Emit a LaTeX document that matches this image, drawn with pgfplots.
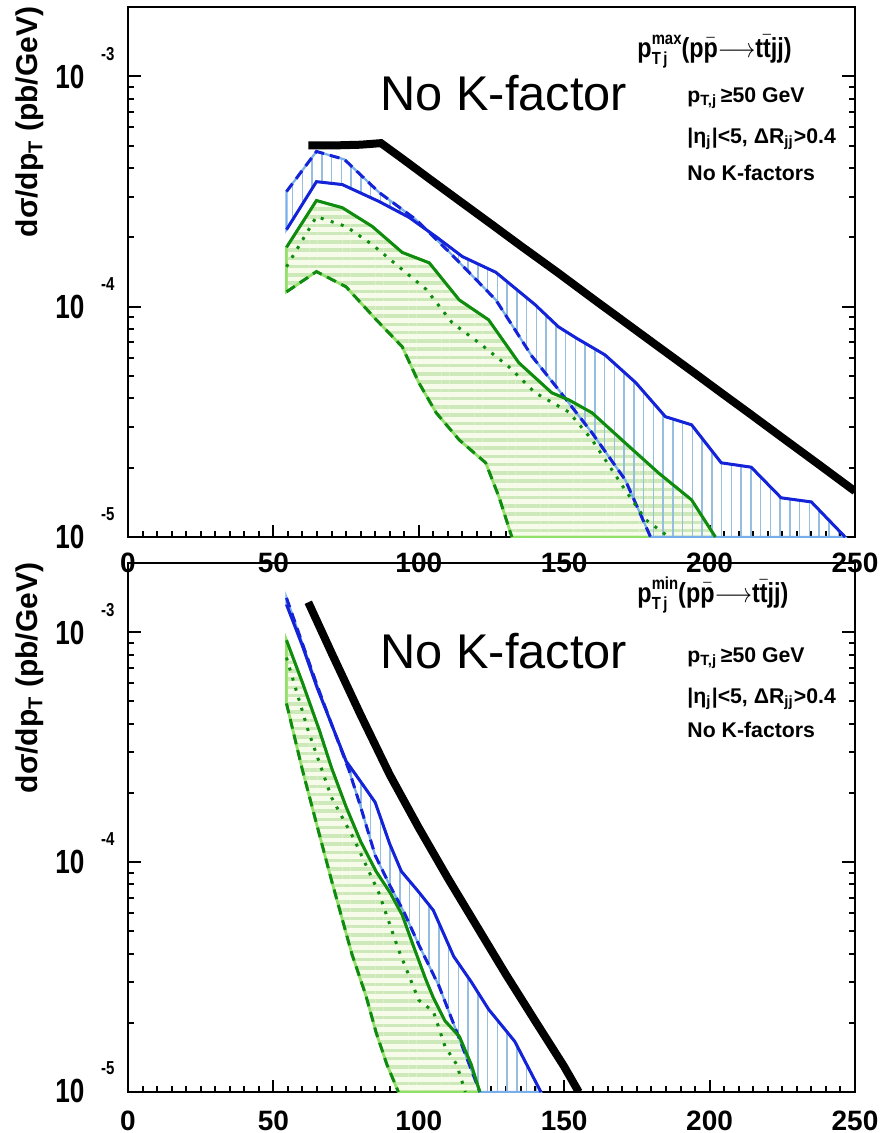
\documentclass[border=0pt]{standalone}
\usepackage{fontspec}
\setmainfont{Liberation Sans}
\usepackage{graphicx}
\usepackage{pgfplots}
\pgfplotsset{compat=1.18}
\usetikzlibrary{patterns.meta}

\definecolor{curveblue}{RGB}{20,35,215}
\definecolor{curvegreen}{RGB}{15,140,15}
\definecolor{edgeblue}{RGB}{120,175,235}
\definecolor{bluehatch}{RGB}{150,190,225}
\definecolor{edgegreen}{RGB}{145,225,105}
\definecolor{greenpale}{RGB}{246,251,234}
\definecolor{greenhatch}{RGB}{205,232,185}

\newcommand\ten{\scalebox{0.78}[1]{\fontsize{13.4}{14}\selectfont\bfseries 10}}
\newcommand\ex[1]{\scalebox{0.8}[1]{\fontsize{7.5}{8}\selectfont\bfseries #1}}
\newcommand\ttl[1]{\scalebox{0.85}[1]{\fontsize{11}{12}\selectfont\bfseries p\rlap{\raisebox{-0.5ex}{\fontsize{7}{7}\selectfont T\,j}}\raisebox{0.85ex}{\fontsize{7}{7}\selectfont #1}(p\ensuremath{\bar{\mbox{p}}}\ensuremath{\longrightarrow}t\ensuremath{\bar{\mbox{t}}}jj)}}
\newcommand\cuts{\fontsize{8.5}{9}\selectfont\bfseries}

\tikzset{
  bandgreen/.style={draw=edgegreen, line width=1pt, fill=greenpale,
    postaction={pattern={Lines[angle=0,distance=3.3pt,line width=1.4pt]}, pattern color=greenhatch}},
  bandblue/.style={draw=edgeblue, line width=0.9pt, pattern={Lines[angle=90,distance=3.9pt,line width=0.6pt]}, pattern color=bluehatch},
  solidline/.style={line width=1.2pt},
  dashline/.style={line width=1.2pt, dash pattern=on 4pt off 2.4pt},
  dotline/.style={line width=1.2pt, dash pattern=on 1.2pt off 3pt},
}

\begin{document}
\begin{tikzpicture}

% upper panel: leading jet
\begin{axis}[at={(51.2pt,-214.8pt)}, anchor=south west,
    scale only axis, width=290.8pt, height=212pt,
    xmin=0, xmax=250, ymode=log, ymin=1e-5, ymax=2e-3,
    xtick={0,50,100,150,200,250},
    xticklabels={0,50,100,150,200,250},
    minor x tick num=9,
    ytick={1e-5,1e-4,1e-3},
    yticklabels={,,},
    xtick pos=left, ytick pos=both,
    tick align=inside,
    major tick length=5pt, minor tick length=2.4pt,
    every tick/.style={black, line width=0.8pt},
    axis line style={line width=1pt},
    xticklabel style={anchor=center, inner sep=0pt, yshift=-10.4pt, font=\fontsize{11.2}{12}\selectfont\bfseries}]
% bands: solid curve forward, dashed curve back
\addplot[bandgreen] coordinates {
 (54.5,1.81e-4) (64.8,2.89e-4) (73.7,2.69e-4) (84,2.23e-4) (94.3,1.72e-4)
 (103.6,1.55e-4) (113.9,1.07e-4) (124,8.77e-5) (134.4,5.71e-5) (145.7,4.23e-5)
 (151.6,3.94e-5) (159.6,3.46e-5) (171,2.56e-5) (182.4,1.90e-5) (193.8,1.45e-5)
 (202,1.0e-5)
 (132,1.0e-5) (127.6,1.49e-5) (123,2.10e-5) (113.9,2.64e-5) (106,3.46e-5)
 (100,4.68e-5) (94.3,6.70e-5) (85.4,8.77e-5) (75,1.22e-4) (64.8,1.42e-4)
 (54.5,1.16e-4)} -- cycle;
\addplot[bandblue] coordinates {
 (54.5,2.16e-4) (64.8,3.49e-4) (73.7,3.39e-4) (86.4,2.86e-4) (96.7,2.44e-4)
 (106,2.01e-4) (115,1.65e-4) (126.5,1.41e-4) (140,1.02e-4) (148,8.18e-5)
 (154,7.33e-5) (164,6.18e-5) (174.6,4.68e-5) (184.8,3.33e-5) (193.8,3.07e-5)
 (204,2.10e-5) (214.3,2.01e-5) (224.6,1.48e-5) (235,1.42e-5) (246.6,1.0e-5)
 (179.7,1.0e-5) (171,1.77e-5) (159.6,2.83e-5) (148,4.37e-5) (139,6.07e-5)
 (126.5,1.07e-4) (110.4,1.73e-4) (99,2.39e-4) (86.4,3.13e-4) (74.4,4.36e-4)
 (64.8,4.72e-4) (54.5,3.16e-4)} -- cycle;
% curves
\addplot[curveblue, solidline] coordinates {
 (54.5,2.16e-4) (64.8,3.49e-4) (73.7,3.39e-4) (86.4,2.86e-4) (96.7,2.44e-4)
 (106,2.01e-4) (115,1.65e-4) (126.5,1.41e-4) (140,1.02e-4) (148,8.18e-5)
 (154,7.33e-5) (164,6.18e-5) (174.6,4.68e-5) (184.8,3.33e-5) (193.8,3.07e-5)
 (204,2.10e-5) (214.3,2.01e-5) (224.6,1.48e-5) (235,1.42e-5) (246.6,1.0e-5)};
\addplot[curveblue, dashline] coordinates {
 (54.5,3.16e-4) (64.8,4.72e-4) (74.4,4.36e-4) (86.4,3.13e-4) (99,2.39e-4)
 (110.4,1.73e-4) (126.5,1.07e-4) (139,6.07e-5) (148,4.37e-5) (159.6,2.83e-5)
 (171,1.77e-5) (179.7,1.0e-5)};
\addplot[curvegreen, solidline] coordinates {
 (54.5,1.81e-4) (64.8,2.89e-4) (73.7,2.69e-4) (84,2.23e-4) (94.3,1.72e-4)
 (103.6,1.55e-4) (113.9,1.07e-4) (124,8.77e-5) (134.4,5.71e-5) (145.7,4.23e-5)
 (151.6,3.94e-5) (159.6,3.46e-5) (171,2.56e-5) (182.4,1.90e-5) (193.8,1.45e-5)
 (202,1.0e-5)};
\addplot[curvegreen, dashline] coordinates {
 (54.5,1.16e-4) (64.8,1.42e-4) (75,1.22e-4) (85.4,8.77e-5) (94.3,6.70e-5)
 (100,4.68e-5) (106,3.46e-5) (113.9,2.64e-5) (123,2.10e-5) (127.6,1.49e-5)
 (132,1.0e-5)};
\addplot[curvegreen, dotline] coordinates {
 (54.5,1.49e-4) (64.8,2.46e-4) (75,2.23e-4) (84,1.86e-4) (94.3,1.45e-4)
 (102.5,1.19e-4) (111.5,8.51e-5) (120.7,6.97e-5) (131,5.48e-5) (140,4.23e-5)
 (151.6,3.49e-5) (159.6,2.64e-5) (171,1.60e-5) (178,1.19e-5) (186,1.0e-5)};
\addplot[black, line width=3.2pt] coordinates {
 (62,5.01e-4) (70,5.01e-4) (80,5.05e-4) (87,5.13e-4) (95,4.33e-4) (105,3.49e-4)
 (115,2.82e-4) (125,2.28e-4) (135,1.84e-4) (148,1.40e-4) (160,1.08e-4)
 (170,8.73e-5) (182,6.76e-5) (195,5.13e-5) (205,4.14e-5) (214,3.42e-5)
 (225,2.70e-5) (237,2.09e-5) (250,1.58e-5)};
\end{axis}

% lower panel: softest jet
\begin{axis}[at={(51.2pt,-436.8pt)}, anchor=south west,
    scale only axis, width=290.8pt, height=211.6pt,
    xmin=0, xmax=250, ymode=log, ymin=1e-5, ymax=2e-3,
    xtick={0,50,100,150,200,250},
    xticklabels={0,50,100,150,200,250},
    minor x tick num=9,
    ytick={1e-5,1e-4,1e-3},
    yticklabels={,,},
    xtick pos=left, ytick pos=both,
    tick align=inside,
    major tick length=5pt, minor tick length=2.4pt,
    every tick/.style={black, line width=0.8pt},
    axis line style={line width=1pt},
    xticklabel style={anchor=center, inner sep=0pt, yshift=-11.5pt, font=\fontsize{11.2}{12}\selectfont\bfseries}]
\addplot[bandgreen] coordinates {
 (54.5,9.23e-4) (60,6.03e-4) (65.8,3.75e-4) (70,2.57e-4) (75,1.74e-4) (80,1.23e-4)
 (85.3,9.12e-5) (90,7.41e-5) (94.3,5.89e-5) (98,4.37e-5) (102.4,3.09e-5)
 (105,2.57e-5) (109,2.04e-5) (114,1.74e-5) (118,1.32e-5) (121,1.0e-5)
 (93,1.0e-5) (89,1.32e-5) (85.3,1.82e-5) (81.8,2.63e-5) (77,3.98e-5)
 (70,8.32e-5) (65.8,1.32e-4) (60,2.51e-4) (54.5,4.90e-4)} -- cycle;
\addplot[bandblue] coordinates {
 (54.5,1.32e-3) (60,8.71e-4) (65,5.75e-4) (70,3.98e-4) (75,2.75e-4) (80,2.24e-4)
 (85,1.82e-4) (90,1.20e-4) (94,9.12e-5) (100,7.41e-5) (105,6.17e-5) (112,3.89e-5)
 (118,3.02e-5) (124,2.29e-5) (133,1.66e-5) (142,1.0e-5)
 (121,1.0e-5) (114,1.70e-5) (107,2.88e-5) (100,4.37e-5) (95,6.03e-5) (90,7.94e-5)
 (85,1.07e-4) (80,1.74e-4) (76,2.51e-4) (70,3.98e-4) (65,5.89e-4) (60,8.91e-4)
 (54.5,1.41e-3)} -- cycle;
\addplot[curveblue, solidline] coordinates {
 (54.5,1.32e-3) (60,8.71e-4) (65,5.75e-4) (70,3.98e-4) (75,2.75e-4) (80,2.24e-4)
 (85,1.82e-4) (90,1.20e-4) (94,9.12e-5) (100,7.41e-5) (105,6.17e-5) (112,3.89e-5)
 (118,3.02e-5) (124,2.29e-5) (133,1.66e-5) (142,1.0e-5)};
\addplot[curveblue, dashline] coordinates {
 (54.5,1.41e-3) (60,8.91e-4) (65,5.89e-4) (70,3.98e-4) (76,2.51e-4) (80,1.74e-4)
 (85,1.07e-4) (90,7.94e-5) (95,6.03e-5) (100,4.37e-5) (107,2.88e-5) (114,1.70e-5)
 (121,1.0e-5)};
\addplot[curvegreen, solidline] coordinates {
 (54.5,9.23e-4) (60,6.03e-4) (65.8,3.75e-4) (70,2.57e-4) (75,1.74e-4) (80,1.23e-4)
 (85.3,9.12e-5) (90,7.41e-5) (94.3,5.89e-5) (98,4.37e-5) (102.4,3.09e-5)
 (105,2.57e-5) (109,2.04e-5) (114,1.74e-5) (118,1.32e-5) (121,1.0e-5)};
\addplot[curvegreen, dashline] coordinates {
 (54.5,4.90e-4) (60,2.51e-4) (65.8,1.32e-4) (70,8.32e-5) (77,3.98e-5)
 (81.8,2.63e-5) (85.3,1.82e-5) (89,1.32e-5) (93,1.0e-5)};
\addplot[curvegreen, dotline] coordinates {
 (54.5,7.76e-4) (62,3.72e-4) (70,1.91e-4) (77.7,1.26e-4) (86.3,7.33e-5)
 (93,4.17e-5) (100,2.51e-5) (105,2.24e-5) (109,1.58e-5) (113,1.32e-5) (116,1.0e-5)};
\addplot[black, line width=3.2pt] coordinates {
 (62,1.35e-3) (70,8.13e-4) (80,4.37e-4) (90,2.40e-4) (100,1.41e-4) (110,8.51e-5)
 (120,5.25e-5) (130,3.24e-5) (140,2.04e-5) (150,1.29e-5) (155,1.0e-5)};
\end{axis}

% texts, placed in reference pixels (0.4pt each, y downwards)
\begin{scope}[x=0.4pt, y=-0.4pt, every node/.style={inner sep=0pt}]
\foreach \b/\e in {88/-3, 318/-4, 548/-5, 644/-3, 874/-4, 1103/-5}{
  \node[anchor=base east] at (85,\b) {\ten};
  \node[anchor=base east] at (115,\b-28) {\ex{\e}};
}
\node[rotate=90, font=\fontsize{12}{13}\selectfont\bfseries] at (30,122) {dσ/dp\textsubscript{T} (pb/GeV)};
\node[rotate=90, font=\fontsize{12}{13}\selectfont\bfseries] at (30,678) {dσ/dp\textsubscript{T} (pb/GeV)};
\node[anchor=base west, font=\fontsize{19.5}{20}\selectfont] at (380,110) {No K-factor};
\node[anchor=base west, font=\fontsize{19.5}{20}\selectfont] at (380,668) {No K-factor};
\node[anchor=base west] at (637,57) {\ttl{max}};
\node[anchor=base west] at (637,602) {\ttl{min}};
\node[anchor=base west, font=\cuts] at (687,102) {p\textsubscript{T,j}\,≥50 GeV};
\node[anchor=base west, font=\cuts] at (687,143) {|η\textsubscript{j}|<5, ΔR\textsubscript{jj}>0.4};
\node[anchor=base west, font=\cuts] at (687,180) {No K-factors};
\node[anchor=base west, font=\cuts] at (687,662) {p\textsubscript{T,j}\,≥50 GeV};
\node[anchor=base west, font=\cuts] at (687,703) {|η\textsubscript{j}|<5, ΔR\textsubscript{jj}>0.4};
\node[anchor=base west, font=\cuts] at (687,738) {No K-factors};
\end{scope}
\pgfresetboundingbox
\path[use as bounding box] (0,0) rectangle (352.4pt,-453.2pt);
\end{tikzpicture}
\end{document}
